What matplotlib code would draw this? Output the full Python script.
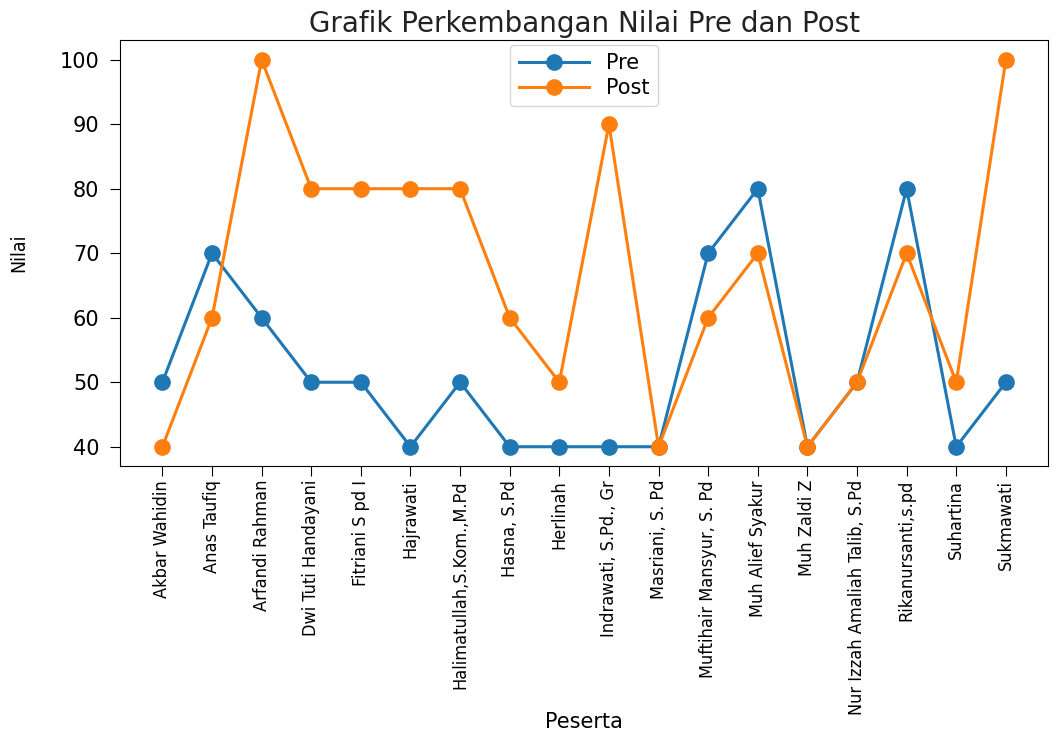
import matplotlib
matplotlib.use("Agg")
import matplotlib.pyplot as plt

peserta = ["Akbar Wahidin", "Anas Taufiq", "Arfandi Rahman", "Dwi Tuti Handayani",
           "Fitriani S pd I", "Hajrawati", "Halimatullah,S.Kom.,M.Pd", "Hasna, S.Pd",
           "Herlinah", "Indrawati, S.Pd., Gr", "Masriani, S. Pd", "Muftihair Mansyur, S. Pd",
           "Muh Alief Syakur", "Muh Zaldi Z", "Nur Izzah Amaliah Talib, S.Pd",
           "Rikanursanti,s.pd", "Suhartina", "Sukmawati"]
pre = [50, 70, 60, 50, 50, 40, 50, 40, 40, 40, 40, 70, 80, 40, 50, 80, 40, 50]
post = [40, 60, 100, 80, 80, 80, 80, 60, 50, 90, 40, 60, 70, 40, 50, 70, 50, 100]

fig = plt.figure(figsize=(10.64, 7.34), dpi=100)
ax = fig.add_axes([0.113, 0.365, 0.872, 0.580])
ax.plot(peserta, pre, marker='o', color='#1f77b4', lw=2.2, ms=11, label='Pre')
ax.plot(peserta, post, marker='o', color='#ff7f0e', lw=2.2, ms=11, label='Post')

ax.set_title("Grafik Perkembangan Nilai Pre dan Post", fontsize=20, color='#222222', pad=6)
ax.set_ylabel("Nilai", fontsize=14, family='DejaVu Sans', fontstretch='condensed')
ax.yaxis.set_label_coords(-0.099, 0.5)
ax.set_xlabel("Peserta", fontsize=15)
ax.xaxis.set_label_coords(0.5, -0.577)
ax.set_yticks([40, 50, 60, 70, 80, 90, 100])
ax.tick_params(axis='y', labelsize=15, length=7, pad=8)
ax.tick_params(axis='x', length=7, pad=3)
for lab in ax.get_xticklabels():
    lab.set_rotation(90)
    lab.set_fontsize(13)
    lab.set_family('DejaVu Sans')
    lab.set_fontstretch('condensed')
ax.legend(loc='upper center', bbox_to_anchor=(0.5, 1.0), borderaxespad=0.2,
          fontsize=15, handlelength=3.4, labelspacing=0.25)
fig.savefig("out.png", dpi=100)
